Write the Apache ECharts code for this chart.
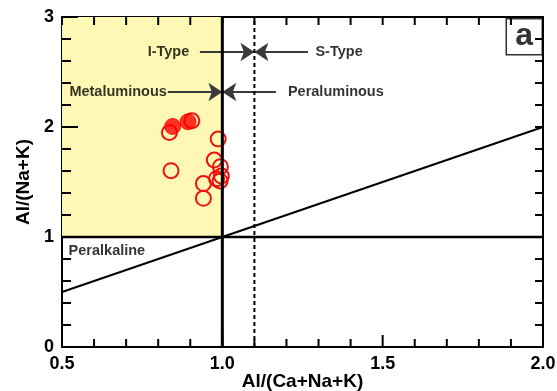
<!DOCTYPE html>
<html>
<head>
<meta charset="utf-8">
<script src="https://cdn.jsdelivr.net/npm/echarts@6/dist/echarts.min.js"></script>
<style>
  html, body { margin: 0; padding: 0; background: #fff; }
  #chart { width: 557px; height: 391px; }
</style>
</head>
<body>
<div id="chart"></div>
<script>
// Sample compositions: [A/CNK, A/NK]
const openSamples = [
  [0.835, 1.95], [0.905, 2.057], [0.987, 1.891], [0.840, 1.603],
  [0.975, 1.700], [0.994, 1.639], [0.997, 1.555], [0.982, 1.530],
  [0.993, 1.509], [0.941, 1.486], [0.941, 1.352]
];
const filledSamples = [
  [0.845, 2.005], [0.893, 2.048]
];

// Field boundaries
const diagonalLine = [[0.5, 0.5], [2.0, 2.0]];
const peralkalineLine = [[0.5, 1.0], [2.0, 1.0]];
const aluminaLine = [[1.0, 0.0], [1.0, 3.0]];
const ISLine = [[1.1, 0.0], [1.1, 3.0]];
const metaluminousField = [[0.5, 1.0], [1.0, 3.0]];

// Field annotations: text and anchor in data units
const zoneLabels = [
  { name: 'I-Type', value: [0.832, 2.682] },
  { name: 'S-Type', value: [1.364, 2.682] },
  { name: 'Metaluminous', value: [0.675, 2.318] },
  { name: 'Peraluminous', value: [1.354, 2.318] },
  { name: 'Peralkaline', value: [0.640, 0.873] }
];
// Pointer arrows: [from, to]
const pointerArrows = [
  [[0.93, 2.682], [1.1, 2.682]],
  [[1.267, 2.682], [1.1, 2.682]],
  [[0.83, 2.318], [1.0, 2.318]],
  [[1.167, 2.318], [1.0, 2.318]]
];

// Axis ranges and tick positions
const xRange = { min: 0.5, max: 2.0, step: 0.5 };
const yRange = { min: 0, max: 3, step: 1 };
const xTickValues = [0.5, 0.6, 0.7, 0.8, 0.9, 1.0, 1.1, 1.2, 1.3, 1.4, 1.5, 1.6, 1.7, 1.8, 1.9, 2.0];
const yTickValues = [0, 0.2, 0.4, 0.6, 0.8, 1.0, 1.2, 1.4, 1.6, 1.8, 2.0, 2.2, 2.4, 2.6, 2.8, 3.0];

const FONT = '"Liberation Sans", Arial, Helvetica, sans-serif';
const RED = '#ee1111';

const chart = echarts.init(document.getElementById('chart'), null, { renderer: 'canvas' });

function frameAxis(extra) {
  return Object.assign({
    type: 'value',
    axisLine: { show: true, onZero: false, lineStyle: { color: '#000', width: 2 } },
    axisTick: { show: false },
    minorTick: { show: false },
    splitLine: { show: false }
  }, extra);
}

function boundary(data, width, type, z) {
  return {
    type: 'line', data: data, symbol: 'none', silent: true, z: z,
    lineStyle: { color: '#000', width: width, type: type },
    xAxisIndex: 0, yAxisIndex: 0
  };
}

// Inward tick marks on all four sides of the frame: [value, side]
// side: 0 bottom, 1 top, 2 left, 3 right
const isMajor = v => Math.abs(v * 2 - Math.round(v * 2)) < 1e-6;
const isMajorY = v => Math.abs(v - Math.round(v)) < 1e-6;
const frameTicks = [];
xTickValues.forEach(v => { frameTicks.push([v, 0]); frameTicks.push([v, 1]); });
yTickValues.forEach(v => { frameTicks.push([v, 2]); frameTicks.push([v, 3]); });

function renderTick(params, api) {
  const v = api.value(0);
  const side = api.value(1);
  let p, q;
  if (side === 0) {
    p = api.coord([v, yRange.min]);
    q = [p[0], p[1] - (isMajor(v) ? 12 : 8)];
  } else if (side === 1) {
    p = api.coord([v, yRange.max]);
    q = [p[0], p[1] + 8];
  } else if (side === 2) {
    p = api.coord([xRange.min, v]);
    q = [p[0] + (isMajorY(v) ? 16 : 9), p[1]];
  } else {
    p = api.coord([xRange.max, v]);
    q = [p[0] - 8, p[1]];
  }
  return {
    type: 'line',
    shape: { x1: p[0], y1: p[1], x2: q[0], y2: q[1] },
    style: { stroke: '#000', lineWidth: 2 }
  };
}

const option = {
  animation: false,
  backgroundColor: '#fff',
  grid: { left: 62, right: 14, top: 17, bottom: 44, containLabel: false, outerBoundsMode: 'none' },
  xAxis: [
    frameAxis({
      position: 'bottom', min: xRange.min, max: xRange.max, interval: xRange.step,
      axisLabel: { color: '#000', fontFamily: FONT, fontWeight: 'bold', fontSize: 18, margin: 8,
                   formatter: v => v.toFixed(1) },
      name: 'Al/(Ca+Na+K)', nameLocation: 'middle', nameGap: 25, nameMoveOverlap: false,
      nameTextStyle: { color: '#000', fontFamily: FONT, fontWeight: 'bold', fontSize: 19 }
    }),
    frameAxis({
      position: 'top', min: xRange.min, max: xRange.max, interval: xRange.step,
      axisLabel: { show: false }
    })
  ],
  yAxis: [
    frameAxis({
      position: 'left', min: yRange.min, max: yRange.max, interval: yRange.step,
      axisLabel: { color: '#000', fontFamily: FONT, fontWeight: 'bold', fontSize: 18, margin: 8 },
      name: 'Al/(Na+K)', nameLocation: 'middle', nameGap: 26, nameRotate: 90,
      nameTextStyle: { color: '#000', fontFamily: FONT, fontWeight: 'bold', fontSize: 19 }
    }),
    frameAxis({
      position: 'right', min: yRange.min, max: yRange.max, interval: yRange.step,
      axisLabel: { show: false }
    })
  ],
  series: [
    {
      // metaluminous field shading
      type: 'line', data: [], silent: true, z: 1,
      markArea: {
        silent: true,
        itemStyle: { color: '#fff8b4' },
        data: [[{ coord: metaluminousField[0] }, { coord: metaluminousField[1] }]]
      }
    },
    {
      type: 'custom', data: frameTicks, renderItem: renderTick, silent: true, z: 2,
      xAxisIndex: 0, yAxisIndex: 0, clip: false
    },
    boundary(diagonalLine, 2, 'solid', 3),
    boundary(peralkalineLine, 2.5, 'solid', 3),
    {
      name: 'open', type: 'scatter', data: openSamples, symbol: 'circle', symbolSize: 15, z: 4,
      itemStyle: { color: 'rgba(255,255,255,0)', borderColor: RED, borderWidth: 2, opacity: 1 }
    },
    {
      name: 'filled', type: 'scatter', data: filledSamples, symbol: 'circle', symbolSize: 16, z: 4,
      itemStyle: { color: '#ff0000', borderColor: '#ff0000', borderWidth: 1 }
    },
    boundary(aluminaLine, 3, 'solid', 5),
    boundary(ISLine, 2, [4, 3], 5),
    {
      // pointer arrows
      type: 'line', data: [], silent: true, z: 6,
      markLine: {
        silent: true,
        symbol: ['none', 'arrow'],
        symbolSize: 14,
        label: { show: false },
        lineStyle: { color: '#3a3a3a', width: 2, type: 'solid' },
        data: pointerArrows.map(a => [{ coord: a[0] }, { coord: a[1] }])
      }
    },
    {
      // field names
      type: 'scatter', data: zoneLabels, symbolSize: 0, silent: true, z: 7,
      label: {
        show: true, position: 'inside', formatter: '{b}',
        color: '#000', fontFamily: FONT, fontWeight: 'bold', fontSize: 14.5
      }
    }
  ],
  graphic: [
    {
      type: 'group', right: 14, top: 18, z: 10,
      children: [
        { type: 'rect', shape: { x: 0, y: 0, width: 36, height: 36 },
          style: { fill: '#fff', stroke: '#333', lineWidth: 1.5 } },
        { type: 'text', x: 18, y: 17,
          style: { text: 'a', fill: '#333', font: 'bold 32px ' + FONT, align: 'center', verticalAlign: 'middle' } }
      ]
    }
  ]
};

chart.setOption(option);
</script>
</body>
</html>
